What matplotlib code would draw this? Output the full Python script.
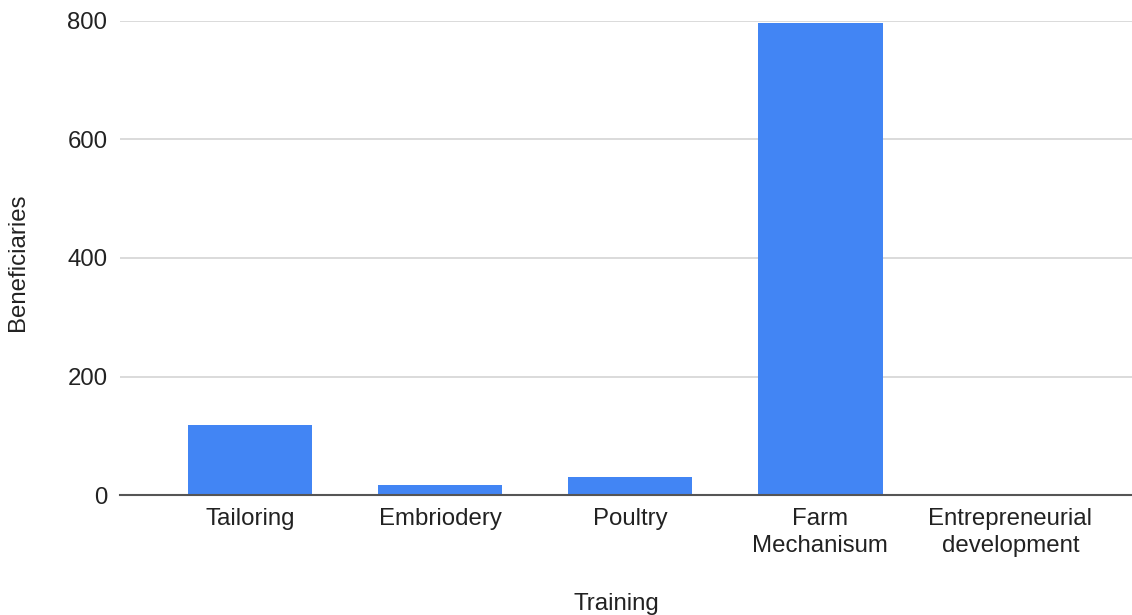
import matplotlib.pyplot as plt

# data
trainings = ['Tailoring', 'Embriodery', 'Poultry', 'Farm\nMechanisum', 'Entrepreneurial\ndevelopment']
beneficiaries = [119, 17, 30, 797, 0]
y_ticks = [0, 200, 400, 600, 800]

plt.rcParams['font.family'] = ['Liberation Sans', 'DejaVu Sans']
fs = 17.3

fig = plt.figure(figsize=(11.32, 6.15), dpi=100)
ax = fig.add_axes([0.106, 0.195, 0.894, 0.771])

x = range(len(trainings))
ax.bar(x, beneficiaries, width=0.655, color='#4285F4', zorder=3)

ax.set_xlim(-0.684, 4.64)
ax.set_ylim(0, 800)
ax.set_yticks(y_ticks)
ax.set_xticks(list(x))
ax.set_xticklabels(trainings, fontsize=fs, color='#222222', linespacing=1.3)
ax.tick_params(axis='y', length=0, pad=9, labelsize=fs, labelcolor='#222222')
ax.tick_params(axis='x', length=0, pad=9)

ax.grid(axis='y', color='#d4d4d4', linewidth=1.2, zorder=0)
for side in ['top', 'right', 'left']:
    ax.spines[side].set_visible(False)
ax.spines['bottom'].set_color('#555555')
ax.spines['bottom'].set_linewidth(1.5)
ax.spines['bottom'].set_zorder(4)

ax.set_ylabel('Beneficiaries', fontsize=fs, color='#222222')
ax.yaxis.set_label_coords(-0.09, 0.49)
ax.set_xlabel('Training', fontsize=fs, color='#222222', va='center')
ax.xaxis.set_label_coords(0.49, -0.229)

fig.savefig('out.png', dpi=100)
